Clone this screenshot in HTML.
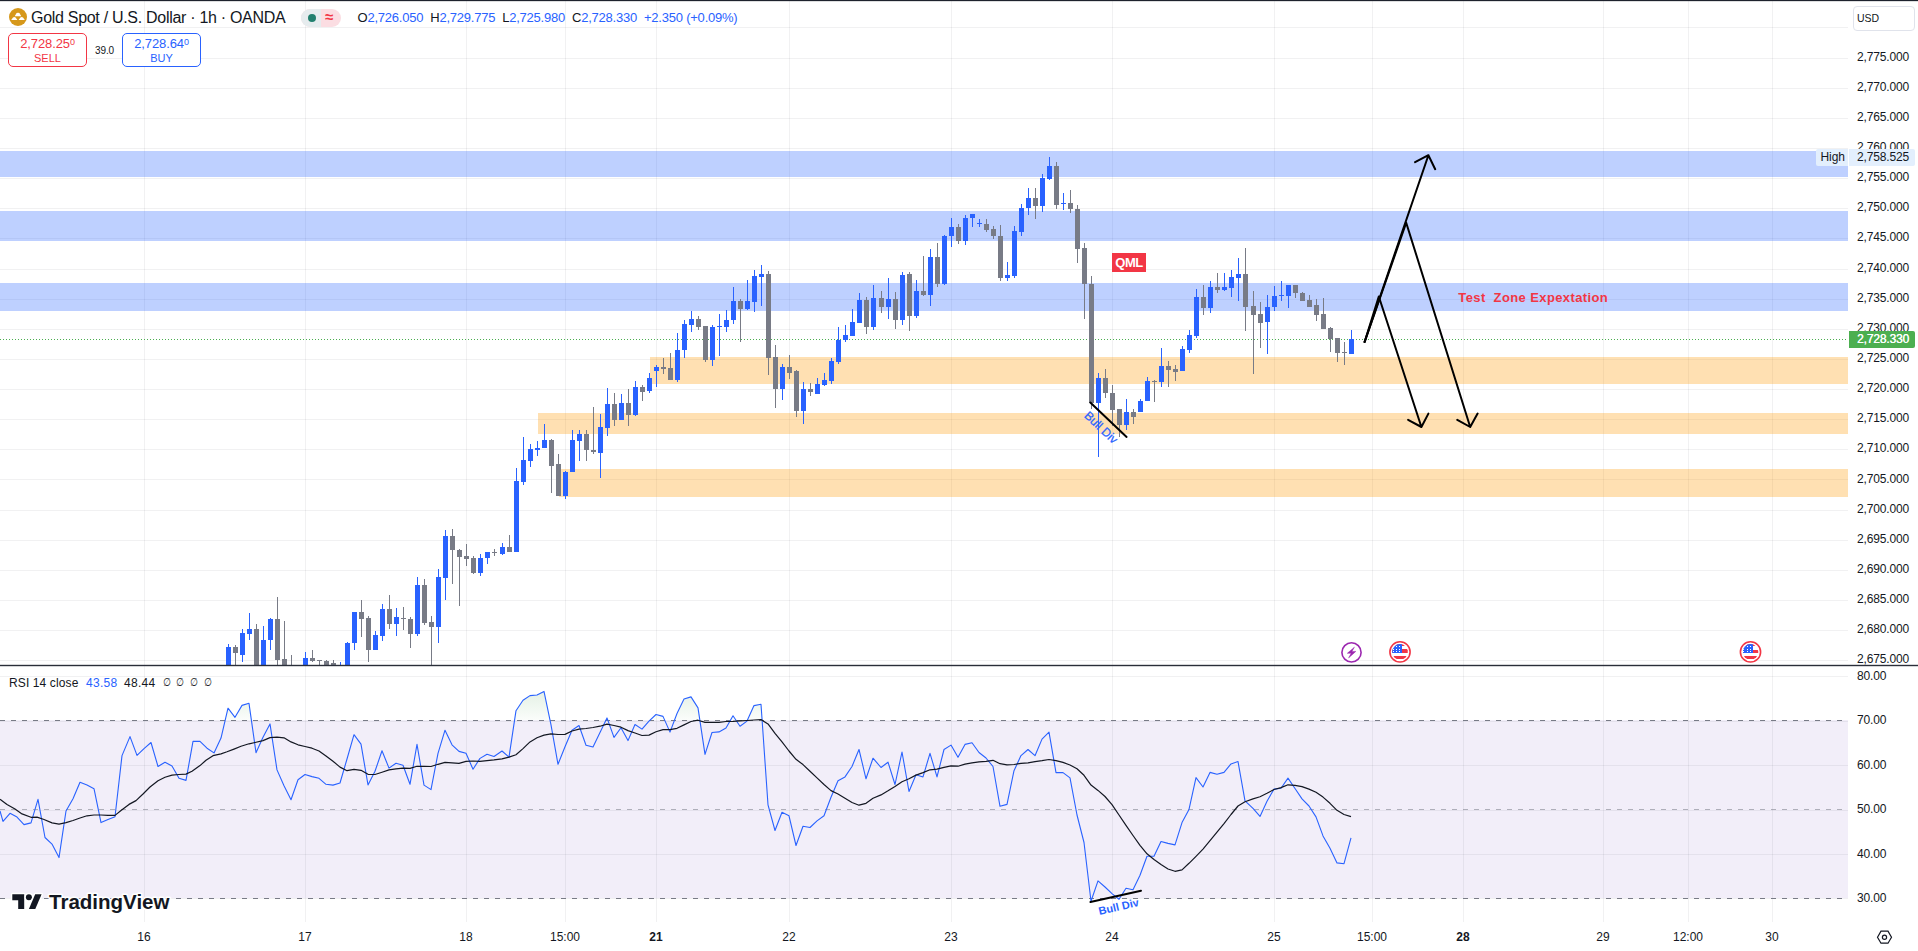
<!DOCTYPE html>
<html><head><meta charset="utf-8"><title>XAUUSD chart</title>
<style>
*{box-sizing:border-box}
html,body{margin:0;padding:0;background:#fff}
body{width:1918px;height:951px;overflow:hidden;position:relative;font-family:"Liberation Sans","DejaVu Sans",sans-serif;color:#131722}
#chart{position:absolute;left:0;top:0}
.pl{position:absolute;left:1857px;font-size:12px;line-height:16px;height:16px;white-space:nowrap;letter-spacing:-0.15px}
.tl{position:absolute;top:929px;width:60px;text-align:center;font-size:12px;line-height:16px;white-space:nowrap}
.tl.b{font-weight:bold}
.abs{position:absolute;white-space:nowrap}
</style></head><body>
<svg id="chart" width="1918" height="951" viewBox="0 0 1918 951">
<defs>
<clipPath id="cpMain"><rect x="0" y="1" width="1848" height="664"/></clipPath>
<clipPath id="cpOb"><rect x="0" y="666" width="1848" height="54.5"/></clipPath>
<linearGradient id="gOb" x1="0" y1="666" x2="0" y2="720.5" gradientUnits="userSpaceOnUse"><stop offset="0" stop-color="#7d9c80" stop-opacity="0.3"/><stop offset="1" stop-color="#4caf50" stop-opacity="0.02"/></linearGradient>
</defs>
<g shape-rendering="crispEdges">
<rect x="0" y="720" width="1848" height="178" fill="#f2eef9"/>
<rect x="0" y="27" width="1848" height="1" fill="rgba(42,46,57,0.065)"/><rect x="0" y="58" width="1848" height="1" fill="rgba(42,46,57,0.065)"/><rect x="0" y="88" width="1848" height="1" fill="rgba(42,46,57,0.065)"/><rect x="0" y="118" width="1848" height="1" fill="rgba(42,46,57,0.065)"/><rect x="0" y="148" width="1848" height="1" fill="rgba(42,46,57,0.065)"/><rect x="0" y="178" width="1848" height="1" fill="rgba(42,46,57,0.065)"/><rect x="0" y="208" width="1848" height="1" fill="rgba(42,46,57,0.065)"/><rect x="0" y="238" width="1848" height="1" fill="rgba(42,46,57,0.065)"/><rect x="0" y="269" width="1848" height="1" fill="rgba(42,46,57,0.065)"/><rect x="0" y="299" width="1848" height="1" fill="rgba(42,46,57,0.065)"/><rect x="0" y="329" width="1848" height="1" fill="rgba(42,46,57,0.065)"/><rect x="0" y="359" width="1848" height="1" fill="rgba(42,46,57,0.065)"/><rect x="0" y="389" width="1848" height="1" fill="rgba(42,46,57,0.065)"/><rect x="0" y="419" width="1848" height="1" fill="rgba(42,46,57,0.065)"/><rect x="0" y="449" width="1848" height="1" fill="rgba(42,46,57,0.065)"/><rect x="0" y="479" width="1848" height="1" fill="rgba(42,46,57,0.065)"/><rect x="0" y="510" width="1848" height="1" fill="rgba(42,46,57,0.065)"/><rect x="0" y="540" width="1848" height="1" fill="rgba(42,46,57,0.065)"/><rect x="0" y="570" width="1848" height="1" fill="rgba(42,46,57,0.065)"/><rect x="0" y="600" width="1848" height="1" fill="rgba(42,46,57,0.065)"/><rect x="0" y="630" width="1848" height="1" fill="rgba(42,46,57,0.065)"/><rect x="0" y="660" width="1848" height="1" fill="rgba(42,46,57,0.065)"/><rect x="0" y="676" width="1848" height="1" fill="rgba(42,46,57,0.065)"/><rect x="0" y="721" width="1848" height="1" fill="rgba(42,46,57,0.065)"/><rect x="0" y="765" width="1848" height="1" fill="rgba(42,46,57,0.065)"/><rect x="0" y="810" width="1848" height="1" fill="rgba(42,46,57,0.065)"/><rect x="0" y="854" width="1848" height="1" fill="rgba(42,46,57,0.065)"/><rect x="0" y="898" width="1848" height="1" fill="rgba(42,46,57,0.065)"/><rect x="144" y="1" width="1" height="921" fill="rgba(42,46,57,0.065)"/><rect x="305" y="1" width="1" height="921" fill="rgba(42,46,57,0.065)"/><rect x="466" y="1" width="1" height="921" fill="rgba(42,46,57,0.065)"/><rect x="565" y="1" width="1" height="921" fill="rgba(42,46,57,0.065)"/><rect x="656" y="1" width="1" height="921" fill="rgba(42,46,57,0.065)"/><rect x="789" y="1" width="1" height="921" fill="rgba(42,46,57,0.065)"/><rect x="951" y="1" width="1" height="921" fill="rgba(42,46,57,0.065)"/><rect x="1112" y="1" width="1" height="921" fill="rgba(42,46,57,0.065)"/><rect x="1274" y="1" width="1" height="921" fill="rgba(42,46,57,0.065)"/><rect x="1372" y="1" width="1" height="921" fill="rgba(42,46,57,0.065)"/><rect x="1463" y="1" width="1" height="921" fill="rgba(42,46,57,0.065)"/><rect x="1603" y="1" width="1" height="921" fill="rgba(42,46,57,0.065)"/><rect x="1688" y="1" width="1" height="921" fill="rgba(42,46,57,0.065)"/><rect x="1772" y="1" width="1" height="921" fill="rgba(42,46,57,0.065)"/>
</g>

<g shape-rendering="crispEdges">
<rect x="0" y="151" width="1848" height="26" fill="#2962ff" fill-opacity="0.3"/>
<rect x="0" y="211" width="1848" height="29.5" fill="#2962ff" fill-opacity="0.3"/>
<rect x="0" y="283" width="1848" height="28" fill="#2962ff" fill-opacity="0.3"/>
<rect x="650" y="357" width="1198" height="27" fill="#ff9800" fill-opacity="0.3"/>
<rect x="538" y="413" width="1310" height="21" fill="#ff9800" fill-opacity="0.3"/>
<rect x="559" y="469" width="1289" height="28" fill="#ff9800" fill-opacity="0.3"/>
</g>
<line x1="0" y1="339.5" x2="1848" y2="339.5" stroke="#4caf50" stroke-width="1" stroke-dasharray="1 2" shape-rendering="crispEdges"/>
<g shape-rendering="crispEdges" clip-path="url(#cpMain)">
<rect x="228" y="644" width="1" height="21" fill="#2962ff"/>
<rect x="226" y="647" width="5" height="18" fill="#2962ff"/>
<rect x="235" y="645" width="1" height="20" fill="#787b86"/>
<rect x="233" y="647" width="5" height="6" fill="#787b86"/>
<rect x="242" y="629" width="1" height="33" fill="#2962ff"/>
<rect x="240" y="633" width="5" height="22" fill="#2962ff"/>
<rect x="249" y="613" width="1" height="27" fill="#2962ff"/>
<rect x="247" y="629" width="5" height="5" fill="#2962ff"/>
<rect x="256" y="624" width="1" height="41" fill="#787b86"/>
<rect x="254" y="629" width="5" height="36" fill="#787b86"/>
<rect x="263" y="626" width="1" height="39" fill="#2962ff"/>
<rect x="261" y="640" width="5" height="25" fill="#2962ff"/>
<rect x="270" y="618" width="1" height="32" fill="#2962ff"/>
<rect x="268" y="619" width="5" height="21" fill="#2962ff"/>
<rect x="277" y="597" width="1" height="68" fill="#787b86"/>
<rect x="275" y="619" width="5" height="41" fill="#787b86"/>
<rect x="284" y="621" width="1" height="44" fill="#787b86"/>
<rect x="282" y="659" width="5" height="6" fill="#787b86"/>
<rect x="291" y="655" width="1" height="10" fill="#787b86"/>
<rect x="305" y="652" width="1" height="13" fill="#2962ff"/>
<rect x="303" y="658" width="5" height="7" fill="#2962ff"/>
<rect x="312" y="650" width="1" height="12" fill="#787b86"/>
<rect x="310" y="658" width="5" height="3" fill="#787b86"/>
<rect x="319" y="660" width="1" height="5" fill="#787b86"/>
<rect x="317" y="660" width="5" height="1" fill="#787b86"/>
<rect x="326" y="660" width="1" height="5" fill="#787b86"/>
<rect x="324" y="661" width="5" height="4" fill="#787b86"/>
<rect x="333" y="660" width="1" height="5" fill="#787b86"/>
<rect x="331" y="663" width="5" height="2" fill="#787b86"/>
<rect x="340" y="662" width="1" height="3" fill="#2962ff"/>
<rect x="347" y="642" width="1" height="23" fill="#2962ff"/>
<rect x="345" y="643" width="5" height="22" fill="#2962ff"/>
<rect x="354" y="612" width="1" height="38" fill="#2962ff"/>
<rect x="352" y="612" width="5" height="31" fill="#2962ff"/>
<rect x="361" y="600" width="1" height="37" fill="#787b86"/>
<rect x="359" y="612" width="5" height="7" fill="#787b86"/>
<rect x="368" y="616" width="1" height="46" fill="#787b86"/>
<rect x="366" y="618" width="5" height="32" fill="#787b86"/>
<rect x="375" y="631" width="1" height="19" fill="#2962ff"/>
<rect x="373" y="635" width="5" height="15" fill="#2962ff"/>
<rect x="382" y="604" width="1" height="37" fill="#2962ff"/>
<rect x="380" y="609" width="5" height="27" fill="#2962ff"/>
<rect x="389" y="595" width="1" height="34" fill="#787b86"/>
<rect x="387" y="609" width="5" height="15" fill="#787b86"/>
<rect x="396" y="608" width="1" height="28" fill="#2962ff"/>
<rect x="394" y="617" width="5" height="7" fill="#2962ff"/>
<rect x="403" y="607" width="1" height="23" fill="#787b86"/>
<rect x="401" y="618" width="5" height="1" fill="#787b86"/>
<rect x="410" y="617" width="1" height="31" fill="#787b86"/>
<rect x="408" y="619" width="5" height="15" fill="#787b86"/>
<rect x="417" y="577" width="1" height="59" fill="#2962ff"/>
<rect x="415" y="585" width="5" height="49" fill="#2962ff"/>
<rect x="424" y="579" width="1" height="46" fill="#787b86"/>
<rect x="422" y="585" width="5" height="38" fill="#787b86"/>
<rect x="431" y="616" width="1" height="49" fill="#787b86"/>
<rect x="429" y="622" width="5" height="5" fill="#787b86"/>
<rect x="438" y="569" width="1" height="74" fill="#2962ff"/>
<rect x="436" y="577" width="5" height="50" fill="#2962ff"/>
<rect x="445" y="530" width="1" height="70" fill="#2962ff"/>
<rect x="443" y="536" width="5" height="42" fill="#2962ff"/>
<rect x="452" y="529" width="1" height="55" fill="#787b86"/>
<rect x="450" y="536" width="5" height="14" fill="#787b86"/>
<rect x="459" y="549" width="1" height="57" fill="#787b86"/>
<rect x="457" y="550" width="5" height="7" fill="#787b86"/>
<rect x="466" y="544" width="1" height="22" fill="#787b86"/>
<rect x="464" y="556" width="5" height="3" fill="#787b86"/>
<rect x="473" y="556" width="1" height="18" fill="#787b86"/>
<rect x="471" y="558" width="5" height="15" fill="#787b86"/>
<rect x="480" y="554" width="1" height="22" fill="#2962ff"/>
<rect x="478" y="558" width="5" height="15" fill="#2962ff"/>
<rect x="487" y="552" width="1" height="12" fill="#2962ff"/>
<rect x="485" y="552" width="5" height="6" fill="#2962ff"/>
<rect x="494" y="549" width="1" height="7" fill="#787b86"/>
<rect x="492" y="552" width="5" height="1" fill="#787b86"/>
<rect x="502" y="543" width="1" height="12" fill="#2962ff"/>
<rect x="500" y="547" width="5" height="7" fill="#2962ff"/>
<rect x="509" y="535" width="1" height="17" fill="#787b86"/>
<rect x="507" y="547" width="5" height="5" fill="#787b86"/>
<rect x="516" y="468" width="1" height="84" fill="#2962ff"/>
<rect x="514" y="481" width="5" height="71" fill="#2962ff"/>
<rect x="523" y="437" width="1" height="48" fill="#2962ff"/>
<rect x="521" y="460" width="5" height="22" fill="#2962ff"/>
<rect x="530" y="444" width="1" height="23" fill="#2962ff"/>
<rect x="528" y="449" width="5" height="12" fill="#2962ff"/>
<rect x="537" y="441" width="1" height="15" fill="#2962ff"/>
<rect x="535" y="448" width="5" height="2" fill="#2962ff"/>
<rect x="544" y="424" width="1" height="24" fill="#2962ff"/>
<rect x="542" y="440" width="5" height="8" fill="#2962ff"/>
<rect x="551" y="439" width="1" height="54" fill="#787b86"/>
<rect x="549" y="440" width="5" height="26" fill="#787b86"/>
<rect x="558" y="454" width="1" height="42" fill="#787b86"/>
<rect x="556" y="464" width="5" height="32" fill="#787b86"/>
<rect x="565" y="471" width="1" height="28" fill="#2962ff"/>
<rect x="563" y="472" width="5" height="24" fill="#2962ff"/>
<rect x="572" y="430" width="1" height="42" fill="#2962ff"/>
<rect x="570" y="440" width="5" height="32" fill="#2962ff"/>
<rect x="579" y="430" width="1" height="31" fill="#2962ff"/>
<rect x="577" y="434" width="5" height="7" fill="#2962ff"/>
<rect x="586" y="430" width="1" height="31" fill="#787b86"/>
<rect x="584" y="434" width="5" height="16" fill="#787b86"/>
<rect x="593" y="407" width="1" height="47" fill="#787b86"/>
<rect x="591" y="450" width="5" height="2" fill="#787b86"/>
<rect x="600" y="414" width="1" height="64" fill="#2962ff"/>
<rect x="598" y="427" width="5" height="26" fill="#2962ff"/>
<rect x="607" y="388" width="1" height="48" fill="#2962ff"/>
<rect x="605" y="404" width="5" height="24" fill="#2962ff"/>
<rect x="614" y="393" width="1" height="33" fill="#787b86"/>
<rect x="612" y="404" width="5" height="16" fill="#787b86"/>
<rect x="621" y="394" width="1" height="26" fill="#2962ff"/>
<rect x="619" y="403" width="5" height="17" fill="#2962ff"/>
<rect x="628" y="389" width="1" height="37" fill="#787b86"/>
<rect x="626" y="403" width="5" height="12" fill="#787b86"/>
<rect x="635" y="381" width="1" height="35" fill="#2962ff"/>
<rect x="633" y="387" width="5" height="28" fill="#2962ff"/>
<rect x="642" y="385" width="1" height="16" fill="#787b86"/>
<rect x="640" y="387" width="5" height="5" fill="#787b86"/>
<rect x="649" y="373" width="1" height="20" fill="#2962ff"/>
<rect x="647" y="378" width="5" height="13" fill="#2962ff"/>
<rect x="656" y="365" width="1" height="22" fill="#2962ff"/>
<rect x="654" y="367" width="5" height="4" fill="#2962ff"/>
<rect x="663" y="358" width="1" height="16" fill="#787b86"/>
<rect x="661" y="367" width="5" height="2" fill="#787b86"/>
<rect x="670" y="353" width="1" height="27" fill="#787b86"/>
<rect x="668" y="368" width="5" height="12" fill="#787b86"/>
<rect x="677" y="333" width="1" height="49" fill="#2962ff"/>
<rect x="675" y="350" width="5" height="30" fill="#2962ff"/>
<rect x="684" y="320" width="1" height="38" fill="#2962ff"/>
<rect x="682" y="324" width="5" height="26" fill="#2962ff"/>
<rect x="691" y="311" width="1" height="21" fill="#2962ff"/>
<rect x="689" y="319" width="5" height="6" fill="#2962ff"/>
<rect x="698" y="316" width="1" height="14" fill="#787b86"/>
<rect x="696" y="319" width="5" height="8" fill="#787b86"/>
<rect x="705" y="326" width="1" height="36" fill="#787b86"/>
<rect x="703" y="326" width="5" height="34" fill="#787b86"/>
<rect x="712" y="325" width="1" height="41" fill="#2962ff"/>
<rect x="710" y="327" width="5" height="33" fill="#2962ff"/>
<rect x="719" y="314" width="1" height="42" fill="#2962ff"/>
<rect x="717" y="326" width="5" height="1" fill="#2962ff"/>
<rect x="726" y="310" width="1" height="22" fill="#2962ff"/>
<rect x="724" y="320" width="5" height="7" fill="#2962ff"/>
<rect x="733" y="287" width="1" height="37" fill="#2962ff"/>
<rect x="731" y="301" width="5" height="19" fill="#2962ff"/>
<rect x="740" y="299" width="1" height="43" fill="#787b86"/>
<rect x="738" y="301" width="5" height="8" fill="#787b86"/>
<rect x="747" y="280" width="1" height="30" fill="#2962ff"/>
<rect x="745" y="301" width="5" height="8" fill="#2962ff"/>
<rect x="754" y="270" width="1" height="42" fill="#2962ff"/>
<rect x="752" y="276" width="5" height="26" fill="#2962ff"/>
<rect x="761" y="265" width="1" height="41" fill="#2962ff"/>
<rect x="759" y="274" width="5" height="3" fill="#2962ff"/>
<rect x="768" y="271" width="1" height="104" fill="#787b86"/>
<rect x="766" y="274" width="5" height="84" fill="#787b86"/>
<rect x="775" y="345" width="1" height="63" fill="#787b86"/>
<rect x="773" y="357" width="5" height="32" fill="#787b86"/>
<rect x="782" y="364" width="1" height="36" fill="#2962ff"/>
<rect x="780" y="367" width="5" height="22" fill="#2962ff"/>
<rect x="789" y="355" width="1" height="24" fill="#787b86"/>
<rect x="787" y="367" width="5" height="6" fill="#787b86"/>
<rect x="796" y="370" width="1" height="47" fill="#787b86"/>
<rect x="794" y="371" width="5" height="40" fill="#787b86"/>
<rect x="803" y="382" width="1" height="42" fill="#2962ff"/>
<rect x="801" y="389" width="5" height="22" fill="#2962ff"/>
<rect x="810" y="383" width="1" height="13" fill="#787b86"/>
<rect x="808" y="389" width="5" height="3" fill="#787b86"/>
<rect x="817" y="378" width="1" height="16" fill="#2962ff"/>
<rect x="815" y="384" width="5" height="10" fill="#2962ff"/>
<rect x="824" y="373" width="1" height="13" fill="#2962ff"/>
<rect x="822" y="380" width="5" height="5" fill="#2962ff"/>
<rect x="831" y="358" width="1" height="26" fill="#2962ff"/>
<rect x="829" y="361" width="5" height="20" fill="#2962ff"/>
<rect x="838" y="327" width="1" height="37" fill="#2962ff"/>
<rect x="836" y="340" width="5" height="22" fill="#2962ff"/>
<rect x="845" y="325" width="1" height="17" fill="#2962ff"/>
<rect x="843" y="335" width="5" height="5" fill="#2962ff"/>
<rect x="852" y="309" width="1" height="27" fill="#2962ff"/>
<rect x="850" y="322" width="5" height="14" fill="#2962ff"/>
<rect x="859" y="293" width="1" height="30" fill="#2962ff"/>
<rect x="857" y="300" width="5" height="23" fill="#2962ff"/>
<rect x="866" y="297" width="1" height="37" fill="#787b86"/>
<rect x="864" y="300" width="5" height="27" fill="#787b86"/>
<rect x="873" y="285" width="1" height="45" fill="#2962ff"/>
<rect x="871" y="298" width="5" height="29" fill="#2962ff"/>
<rect x="881" y="291" width="1" height="22" fill="#787b86"/>
<rect x="879" y="298" width="5" height="9" fill="#787b86"/>
<rect x="888" y="278" width="1" height="41" fill="#2962ff"/>
<rect x="886" y="299" width="5" height="8" fill="#2962ff"/>
<rect x="895" y="292" width="1" height="37" fill="#787b86"/>
<rect x="893" y="299" width="5" height="21" fill="#787b86"/>
<rect x="902" y="272" width="1" height="53" fill="#2962ff"/>
<rect x="900" y="275" width="5" height="45" fill="#2962ff"/>
<rect x="909" y="272" width="1" height="59" fill="#787b86"/>
<rect x="907" y="274" width="5" height="42" fill="#787b86"/>
<rect x="916" y="280" width="1" height="38" fill="#2962ff"/>
<rect x="914" y="291" width="5" height="25" fill="#2962ff"/>
<rect x="923" y="256" width="1" height="40" fill="#787b86"/>
<rect x="921" y="291" width="5" height="4" fill="#787b86"/>
<rect x="930" y="249" width="1" height="57" fill="#2962ff"/>
<rect x="928" y="257" width="5" height="38" fill="#2962ff"/>
<rect x="937" y="243" width="1" height="44" fill="#787b86"/>
<rect x="935" y="257" width="5" height="27" fill="#787b86"/>
<rect x="944" y="235" width="1" height="50" fill="#2962ff"/>
<rect x="942" y="236" width="5" height="48" fill="#2962ff"/>
<rect x="951" y="218" width="1" height="29" fill="#2962ff"/>
<rect x="949" y="227" width="5" height="9" fill="#2962ff"/>
<rect x="958" y="224" width="1" height="20" fill="#787b86"/>
<rect x="956" y="227" width="5" height="14" fill="#787b86"/>
<rect x="965" y="215" width="1" height="30" fill="#2962ff"/>
<rect x="963" y="218" width="5" height="23" fill="#2962ff"/>
<rect x="972" y="214" width="1" height="13" fill="#2962ff"/>
<rect x="970" y="214" width="5" height="4" fill="#2962ff"/>
<rect x="979" y="219" width="1" height="8" fill="#2962ff"/>
<rect x="977" y="223" width="5" height="1" fill="#2962ff"/>
<rect x="986" y="219" width="1" height="13" fill="#787b86"/>
<rect x="984" y="224" width="5" height="6" fill="#787b86"/>
<rect x="993" y="226" width="1" height="13" fill="#787b86"/>
<rect x="991" y="229" width="5" height="7" fill="#787b86"/>
<rect x="1000" y="225" width="1" height="56" fill="#787b86"/>
<rect x="998" y="236" width="5" height="42" fill="#787b86"/>
<rect x="1007" y="262" width="1" height="19" fill="#2962ff"/>
<rect x="1005" y="275" width="5" height="3" fill="#2962ff"/>
<rect x="1014" y="226" width="1" height="52" fill="#2962ff"/>
<rect x="1012" y="231" width="5" height="45" fill="#2962ff"/>
<rect x="1021" y="204" width="1" height="32" fill="#2962ff"/>
<rect x="1019" y="208" width="5" height="24" fill="#2962ff"/>
<rect x="1028" y="188" width="1" height="27" fill="#2962ff"/>
<rect x="1026" y="198" width="5" height="10" fill="#2962ff"/>
<rect x="1035" y="188" width="1" height="31" fill="#787b86"/>
<rect x="1033" y="198" width="5" height="8" fill="#787b86"/>
<rect x="1042" y="174" width="1" height="38" fill="#2962ff"/>
<rect x="1040" y="178" width="5" height="28" fill="#2962ff"/>
<rect x="1049" y="157" width="1" height="23" fill="#2962ff"/>
<rect x="1047" y="166" width="5" height="13" fill="#2962ff"/>
<rect x="1056" y="162" width="1" height="47" fill="#787b86"/>
<rect x="1054" y="166" width="5" height="39" fill="#787b86"/>
<rect x="1063" y="193" width="1" height="17" fill="#2962ff"/>
<rect x="1061" y="203" width="5" height="1" fill="#2962ff"/>
<rect x="1070" y="190" width="1" height="23" fill="#787b86"/>
<rect x="1068" y="203" width="5" height="6" fill="#787b86"/>
<rect x="1077" y="205" width="1" height="58" fill="#787b86"/>
<rect x="1075" y="209" width="5" height="40" fill="#787b86"/>
<rect x="1084" y="243" width="1" height="76" fill="#787b86"/>
<rect x="1082" y="248" width="5" height="36" fill="#787b86"/>
<rect x="1091" y="276" width="1" height="133" fill="#787b86"/>
<rect x="1089" y="284" width="5" height="119" fill="#787b86"/>
<rect x="1098" y="373" width="1" height="84" fill="#2962ff"/>
<rect x="1096" y="378" width="5" height="25" fill="#2962ff"/>
<rect x="1105" y="369" width="1" height="29" fill="#787b86"/>
<rect x="1103" y="378" width="5" height="15" fill="#787b86"/>
<rect x="1112" y="385" width="1" height="41" fill="#787b86"/>
<rect x="1110" y="393" width="5" height="17" fill="#787b86"/>
<rect x="1119" y="409" width="1" height="28" fill="#787b86"/>
<rect x="1117" y="409" width="5" height="16" fill="#787b86"/>
<rect x="1126" y="399" width="1" height="31" fill="#2962ff"/>
<rect x="1124" y="412" width="5" height="13" fill="#2962ff"/>
<rect x="1133" y="409" width="1" height="15" fill="#787b86"/>
<rect x="1131" y="412" width="5" height="5" fill="#787b86"/>
<rect x="1140" y="399" width="1" height="13" fill="#2962ff"/>
<rect x="1138" y="401" width="5" height="11" fill="#2962ff"/>
<rect x="1147" y="377" width="1" height="24" fill="#2962ff"/>
<rect x="1145" y="381" width="5" height="20" fill="#2962ff"/>
<rect x="1154" y="380" width="1" height="22" fill="#787b86"/>
<rect x="1152" y="381" width="5" height="1" fill="#787b86"/>
<rect x="1161" y="348" width="1" height="39" fill="#2962ff"/>
<rect x="1159" y="366" width="5" height="16" fill="#2962ff"/>
<rect x="1168" y="361" width="1" height="26" fill="#787b86"/>
<rect x="1166" y="366" width="5" height="4" fill="#787b86"/>
<rect x="1175" y="365" width="1" height="16" fill="#787b86"/>
<rect x="1173" y="369" width="5" height="3" fill="#787b86"/>
<rect x="1182" y="346" width="1" height="25" fill="#2962ff"/>
<rect x="1180" y="349" width="5" height="22" fill="#2962ff"/>
<rect x="1189" y="330" width="1" height="23" fill="#2962ff"/>
<rect x="1187" y="335" width="5" height="15" fill="#2962ff"/>
<rect x="1196" y="289" width="1" height="49" fill="#2962ff"/>
<rect x="1194" y="297" width="5" height="39" fill="#2962ff"/>
<rect x="1203" y="285" width="1" height="30" fill="#787b86"/>
<rect x="1201" y="297" width="5" height="11" fill="#787b86"/>
<rect x="1210" y="281" width="1" height="32" fill="#2962ff"/>
<rect x="1208" y="287" width="5" height="21" fill="#2962ff"/>
<rect x="1217" y="273" width="1" height="20" fill="#787b86"/>
<rect x="1215" y="287" width="5" height="3" fill="#787b86"/>
<rect x="1224" y="273" width="1" height="18" fill="#2962ff"/>
<rect x="1222" y="287" width="5" height="3" fill="#2962ff"/>
<rect x="1231" y="270" width="1" height="27" fill="#2962ff"/>
<rect x="1229" y="277" width="5" height="11" fill="#2962ff"/>
<rect x="1238" y="258" width="1" height="43" fill="#2962ff"/>
<rect x="1236" y="274" width="5" height="4" fill="#2962ff"/>
<rect x="1245" y="248" width="1" height="83" fill="#787b86"/>
<rect x="1243" y="274" width="5" height="33" fill="#787b86"/>
<rect x="1253" y="291" width="1" height="83" fill="#787b86"/>
<rect x="1251" y="306" width="5" height="9" fill="#787b86"/>
<rect x="1260" y="302" width="1" height="46" fill="#787b86"/>
<rect x="1258" y="314" width="5" height="9" fill="#787b86"/>
<rect x="1267" y="295" width="1" height="59" fill="#2962ff"/>
<rect x="1265" y="307" width="5" height="15" fill="#2962ff"/>
<rect x="1274" y="286" width="1" height="25" fill="#2962ff"/>
<rect x="1272" y="296" width="5" height="11" fill="#2962ff"/>
<rect x="1281" y="281" width="1" height="20" fill="#2962ff"/>
<rect x="1279" y="295" width="5" height="1" fill="#2962ff"/>
<rect x="1288" y="285" width="1" height="23" fill="#2962ff"/>
<rect x="1286" y="285" width="5" height="11" fill="#2962ff"/>
<rect x="1295" y="285" width="1" height="13" fill="#787b86"/>
<rect x="1293" y="285" width="5" height="8" fill="#787b86"/>
<rect x="1302" y="292" width="1" height="9" fill="#787b86"/>
<rect x="1300" y="293" width="5" height="8" fill="#787b86"/>
<rect x="1309" y="295" width="1" height="12" fill="#787b86"/>
<rect x="1307" y="300" width="5" height="7" fill="#787b86"/>
<rect x="1316" y="299" width="1" height="22" fill="#787b86"/>
<rect x="1314" y="305" width="5" height="10" fill="#787b86"/>
<rect x="1323" y="298" width="1" height="31" fill="#787b86"/>
<rect x="1321" y="314" width="5" height="15" fill="#787b86"/>
<rect x="1330" y="327" width="1" height="25" fill="#787b86"/>
<rect x="1328" y="328" width="5" height="11" fill="#787b86"/>
<rect x="1337" y="338" width="1" height="24" fill="#787b86"/>
<rect x="1335" y="338" width="5" height="15" fill="#787b86"/>
<rect x="1344" y="342" width="1" height="23" fill="#787b86"/>
<rect x="1342" y="352" width="5" height="1" fill="#787b86"/>
<rect x="1351" y="330" width="1" height="24" fill="#2962ff"/>
<rect x="1349" y="339" width="5" height="15" fill="#2962ff"/>
</g>
<!-- drawings main -->
<g fill="none" stroke="#000" stroke-linecap="round" stroke-linejoin="round">
<path d="M1364.6,342 L1428.4,155.2 M1415.1,162.2 L1428.4,155.2 L1435.2,169.2" stroke-width="2"/>
<path d="M1364.6,342 L1378.8,296.5 L1421.4,427 M1408.1,419.8 L1421.4,427 L1428.4,413.6" stroke-width="2"/>
<path d="M1364.6,342 L1406.2,222.7 L1470.2,427 M1457.3,419.8 L1470.2,427 L1477.6,413.6" stroke-width="2"/>
<path d="M1090.3,402.6 L1126.6,436.9" stroke-width="2"/>
</g>
<text x="0" y="0" transform="translate(1083.5,416.5) rotate(43.5)" font-size="12" fill="#2962ff" stroke="#2962ff" stroke-width="0.25" font-family="Liberation Sans, sans-serif">Bull Div</text>
<rect x="1112" y="253" width="34" height="19" fill="#f23645"/>
<text x="1129" y="267" text-anchor="middle" font-size="13" font-weight="bold" fill="#fff" font-family="Liberation Sans, sans-serif" letter-spacing="-0.5">QML</text>
<text x="1458.3" y="301.6" font-size="13" font-weight="bold" fill="#f23645" font-family="Liberation Sans, sans-serif" style="white-space:pre" textLength="149.5" lengthAdjust="spacing">Test  Zone Expextation</text>
<!-- icons -->
<g>
<circle cx="1351.5" cy="652.4" r="9.6" fill="#fff" stroke="#9c27b0" stroke-width="1.6"/>
<path d="M1354.4,647.2 L1347.3,653.3 L1351.2,653.3 L1348.6,657.9 L1355.8,651.4 L1351.9,651.4 Z" fill="#9c27b0" stroke="#9c27b0" stroke-width="0.5" stroke-linejoin="round"/>
</g>
<g id="flag1">
<circle cx="1400" cy="651.9" r="10.1" fill="#fff" stroke="#f23645" stroke-width="1.6"/>
<clipPath id="fc1"><circle cx="1400" cy="651.9" r="7.8"/></clipPath>
<g clip-path="url(#fc1)" shape-rendering="crispEdges">
<rect x="1392" y="644" width="16" height="16" fill="#fff"/>
<rect x="1392" y="644" width="16" height="2.3" fill="#f23645"/>
<rect x="1392" y="648.6" width="16" height="2.3" fill="#f23645"/>
<rect x="1392" y="650.2" width="16" height="3" fill="#f23645"/>
<rect x="1392" y="656" width="16" height="3.2" fill="#f23645"/>
<rect x="1392" y="644" width="10" height="9.2" fill="#2962ff"/><rect x="1392.8" y="645.7" width="1" height="1" fill="#fff"/><rect x="1392.8" y="648.6" width="1" height="1" fill="#fff"/><rect x="1392.8" y="651.2" width="1" height="1" fill="#fff"/><rect x="1396.0" y="645.7" width="1" height="1" fill="#fff"/><rect x="1396.0" y="648.6" width="1" height="1" fill="#fff"/><rect x="1396.0" y="651.2" width="1" height="1" fill="#fff"/><rect x="1399.1" y="645.7" width="1" height="1" fill="#fff"/><rect x="1399.1" y="648.6" width="1" height="1" fill="#fff"/><rect x="1399.1" y="651.2" width="1" height="1" fill="#fff"/>
</g>
</g>
<g id="flag2">
<circle cx="1750.5" cy="651.9" r="10.1" fill="#fff" stroke="#f23645" stroke-width="1.6"/>
<clipPath id="fc2"><circle cx="1750.5" cy="651.9" r="7.8"/></clipPath>
<g clip-path="url(#fc2)" shape-rendering="crispEdges">
<rect x="1742.5" y="644" width="16" height="16" fill="#fff"/>
<rect x="1742.5" y="644" width="16" height="2.3" fill="#f23645"/>
<rect x="1742.5" y="650.2" width="16" height="3" fill="#f23645"/>
<rect x="1742.5" y="656" width="16" height="3.2" fill="#f23645"/>
<rect x="1742.5" y="644" width="10" height="9.2" fill="#2962ff"/><rect x="1743.3" y="645.7" width="1" height="1" fill="#fff"/><rect x="1743.3" y="648.6" width="1" height="1" fill="#fff"/><rect x="1743.3" y="651.2" width="1" height="1" fill="#fff"/><rect x="1746.5" y="645.7" width="1" height="1" fill="#fff"/><rect x="1746.5" y="648.6" width="1" height="1" fill="#fff"/><rect x="1746.5" y="651.2" width="1" height="1" fill="#fff"/><rect x="1749.6" y="645.7" width="1" height="1" fill="#fff"/><rect x="1749.6" y="648.6" width="1" height="1" fill="#fff"/><rect x="1749.6" y="651.2" width="1" height="1" fill="#fff"/>
</g>
</g>
<!-- separator -->
<rect x="0" y="664.8" width="1918" height="1.4" fill="#2a2e39"/>
<rect x="0" y="0" width="1918" height="1.15" fill="#1e222d"/>
<!-- RSI -->
<path d="M0.0,811.0 L3.0,821.4 L10.0,813.3 L17.0,817.1 L24.0,824.6 L31.0,822.9 L38.0,799.3 L45.0,837.5 L52.0,844.1 L59.0,857.6 L66.0,811.0 L73.0,798.7 L80.0,782.2 L87.0,785.1 L94.0,788.7 L101.0,822.6 L108.0,819.5 L115.0,816.7 L122.0,755.6 L130.0,736.6 L137.0,755.4 L144.0,748.6 L151.0,742.5 L158.0,766.5 L165.0,762.2 L172.0,766.0 L179.0,778.3 L186.0,780.4 L193.0,741.4 L200.0,741.4 L207.0,748.2 L214.0,752.9 L221.0,738.1 L228.0,708.2 L235.0,717.3 L242.0,705.4 L249.0,703.3 L256.0,752.7 L263.0,737.2 L270.0,723.9 L277.0,769.9 L284.0,785.8 L291.0,799.7 L298.0,779.8 L305.0,774.5 L312.0,776.6 L319.0,778.3 L326.0,784.3 L333.0,785.1 L340.0,783.0 L347.0,759.0 L354.0,734.7 L361.0,744.2 L368.0,784.9 L375.0,771.3 L382.0,750.8 L389.0,768.1 L396.0,763.3 L403.0,765.2 L410.0,784.3 L417.0,744.4 L424.0,785.1 L431.0,789.6 L438.0,753.3 L445.0,730.2 L452.0,744.8 L459.0,751.4 L466.0,753.3 L473.0,769.2 L480.0,758.4 L487.0,754.2 L494.0,756.5 L502.0,751.0 L509.0,757.1 L516.0,710.7 L523.0,700.3 L530.0,695.6 L537.0,695.0 L544.0,691.4 L551.0,724.9 L558.0,764.3 L565.0,746.7 L572.0,730.2 L579.0,725.5 L586.0,745.3 L593.0,747.0 L600.0,732.5 L607.0,717.9 L614.0,737.4 L621.0,727.7 L628.0,740.6 L635.0,724.5 L642.0,729.1 L649.0,721.1 L656.0,714.5 L663.0,716.4 L670.0,732.1 L677.0,713.5 L684.0,699.0 L691.0,696.9 L698.0,707.9 L705.0,754.4 L712.0,732.5 L719.0,731.9 L726.0,728.1 L733.0,715.8 L740.0,726.2 L747.0,721.1 L754.0,705.6 L761.0,704.3 L768.0,804.8 L775.0,830.5 L782.0,812.3 L789.0,815.8 L796.0,845.5 L803.0,826.2 L810.0,827.5 L817.0,820.9 L824.0,815.8 L831.0,797.2 L838.0,780.7 L845.0,776.9 L852.0,766.5 L859.0,749.5 L866.0,778.8 L873.0,758.2 L881.0,767.5 L888.0,762.2 L895.0,784.5 L902.0,752.0 L909.0,791.5 L916.0,774.7 L923.0,776.9 L930.0,753.3 L937.0,776.9 L944.0,749.5 L951.0,745.1 L958.0,757.3 L965.0,744.4 L972.0,742.7 L979.0,752.5 L986.0,758.0 L993.0,766.5 L1000.0,806.3 L1007.0,804.4 L1014.0,770.7 L1021.0,755.6 L1028.0,749.5 L1035.0,755.7 L1042.0,739.1 L1049.0,732.1 L1056.0,772.6 L1063.0,772.6 L1070.0,777.9 L1077.0,815.0 L1084.0,842.5 L1091.0,901.2 L1098.0,880.9 L1105.0,887.0 L1112.0,893.6 L1119.0,899.3 L1126.0,888.3 L1133.0,889.8 L1140.0,875.2 L1147.0,856.3 L1154.0,856.3 L1161.0,841.5 L1168.0,843.4 L1175.0,844.9 L1182.0,822.6 L1189.0,809.4 L1196.0,777.6 L1203.0,787.0 L1210.0,772.4 L1217.0,774.3 L1224.0,772.4 L1231.0,763.9 L1238.0,761.5 L1245.0,800.8 L1253.0,808.4 L1260.0,816.4 L1267.0,801.2 L1274.0,789.1 L1281.0,788.2 L1288.0,778.1 L1295.0,788.5 L1302.0,798.9 L1309.0,806.0 L1316.0,816.9 L1323.0,835.9 L1330.0,848.2 L1337.0,862.9 L1344.0,863.7 L1351.0,837.8 L1351.3,720.5 L0,720.5 Z" fill="url(#gOb)" clip-path="url(#cpOb)"/>
<g stroke="#787b86" stroke-width="1" stroke-dasharray="5 6" shape-rendering="crispEdges">
<line x1="0" y1="720.5" x2="1848" y2="720.5"/>
<line x1="0" y1="809.5" x2="1848" y2="809.5" stroke-opacity="0.55"/>
<line x1="0" y1="898.5" x2="1848" y2="898.5"/>
</g>
<path d="M0.0,811.0 L3.0,821.4 L10.0,813.3 L17.0,817.1 L24.0,824.6 L31.0,822.9 L38.0,799.3 L45.0,837.5 L52.0,844.1 L59.0,857.6 L66.0,811.0 L73.0,798.7 L80.0,782.2 L87.0,785.1 L94.0,788.7 L101.0,822.6 L108.0,819.5 L115.0,816.7 L122.0,755.6 L130.0,736.6 L137.0,755.4 L144.0,748.6 L151.0,742.5 L158.0,766.5 L165.0,762.2 L172.0,766.0 L179.0,778.3 L186.0,780.4 L193.0,741.4 L200.0,741.4 L207.0,748.2 L214.0,752.9 L221.0,738.1 L228.0,708.2 L235.0,717.3 L242.0,705.4 L249.0,703.3 L256.0,752.7 L263.0,737.2 L270.0,723.9 L277.0,769.9 L284.0,785.8 L291.0,799.7 L298.0,779.8 L305.0,774.5 L312.0,776.6 L319.0,778.3 L326.0,784.3 L333.0,785.1 L340.0,783.0 L347.0,759.0 L354.0,734.7 L361.0,744.2 L368.0,784.9 L375.0,771.3 L382.0,750.8 L389.0,768.1 L396.0,763.3 L403.0,765.2 L410.0,784.3 L417.0,744.4 L424.0,785.1 L431.0,789.6 L438.0,753.3 L445.0,730.2 L452.0,744.8 L459.0,751.4 L466.0,753.3 L473.0,769.2 L480.0,758.4 L487.0,754.2 L494.0,756.5 L502.0,751.0 L509.0,757.1 L516.0,710.7 L523.0,700.3 L530.0,695.6 L537.0,695.0 L544.0,691.4 L551.0,724.9 L558.0,764.3 L565.0,746.7 L572.0,730.2 L579.0,725.5 L586.0,745.3 L593.0,747.0 L600.0,732.5 L607.0,717.9 L614.0,737.4 L621.0,727.7 L628.0,740.6 L635.0,724.5 L642.0,729.1 L649.0,721.1 L656.0,714.5 L663.0,716.4 L670.0,732.1 L677.0,713.5 L684.0,699.0 L691.0,696.9 L698.0,707.9 L705.0,754.4 L712.0,732.5 L719.0,731.9 L726.0,728.1 L733.0,715.8 L740.0,726.2 L747.0,721.1 L754.0,705.6 L761.0,704.3 L768.0,804.8 L775.0,830.5 L782.0,812.3 L789.0,815.8 L796.0,845.5 L803.0,826.2 L810.0,827.5 L817.0,820.9 L824.0,815.8 L831.0,797.2 L838.0,780.7 L845.0,776.9 L852.0,766.5 L859.0,749.5 L866.0,778.8 L873.0,758.2 L881.0,767.5 L888.0,762.2 L895.0,784.5 L902.0,752.0 L909.0,791.5 L916.0,774.7 L923.0,776.9 L930.0,753.3 L937.0,776.9 L944.0,749.5 L951.0,745.1 L958.0,757.3 L965.0,744.4 L972.0,742.7 L979.0,752.5 L986.0,758.0 L993.0,766.5 L1000.0,806.3 L1007.0,804.4 L1014.0,770.7 L1021.0,755.6 L1028.0,749.5 L1035.0,755.7 L1042.0,739.1 L1049.0,732.1 L1056.0,772.6 L1063.0,772.6 L1070.0,777.9 L1077.0,815.0 L1084.0,842.5 L1091.0,901.2 L1098.0,880.9 L1105.0,887.0 L1112.0,893.6 L1119.0,899.3 L1126.0,888.3 L1133.0,889.8 L1140.0,875.2 L1147.0,856.3 L1154.0,856.3 L1161.0,841.5 L1168.0,843.4 L1175.0,844.9 L1182.0,822.6 L1189.0,809.4 L1196.0,777.6 L1203.0,787.0 L1210.0,772.4 L1217.0,774.3 L1224.0,772.4 L1231.0,763.9 L1238.0,761.5 L1245.0,800.8 L1253.0,808.4 L1260.0,816.4 L1267.0,801.2 L1274.0,789.1 L1281.0,788.2 L1288.0,778.1 L1295.0,788.5 L1302.0,798.9 L1309.0,806.0 L1316.0,816.9 L1323.0,835.9 L1330.0,848.2 L1337.0,862.9 L1344.0,863.7 L1351.0,837.8" fill="none" stroke="#2962ff" stroke-width="1.1" stroke-linejoin="round"/>
<path d="M0.0,799.3 L7.0,804.4 L15.0,809.1 L22.0,813.9 L31.0,817.3 L37.0,817.1 L44.0,819.5 L52.0,822.9 L59.0,824.1 L66.0,822.6 L73.0,820.5 L80.0,818.0 L87.0,815.8 L94.0,815.0 L101.0,815.0 L108.0,815.4 L115.0,815.4 L121.0,810.5 L129.0,804.4 L136.0,800.6 L143.0,794.0 L150.0,787.0 L158.0,780.7 L165.0,777.3 L172.0,775.1 L179.0,774.5 L186.0,774.1 L192.0,771.3 L200.0,765.6 L206.0,760.3 L213.0,755.7 L221.0,753.9 L227.0,751.8 L234.0,749.1 L241.0,746.3 L249.0,743.8 L255.0,742.5 L263.0,740.6 L270.0,737.6 L277.0,737.2 L284.0,737.8 L291.0,741.9 L298.0,744.8 L305.0,746.5 L312.0,748.2 L319.0,751.0 L326.0,756.1 L333.0,761.2 L340.0,767.1 L347.0,770.7 L354.0,769.4 L361.0,770.3 L368.0,774.3 L375.0,774.5 L382.0,772.2 L389.0,769.9 L396.0,768.8 L403.0,768.2 L410.0,768.4 L417.0,766.3 L424.0,766.3 L431.0,766.5 L438.0,764.3 L445.0,762.4 L452.0,762.9 L459.0,763.3 L466.0,761.4 L473.0,761.0 L480.0,761.4 L487.0,760.7 L494.0,759.9 L502.0,758.8 L509.0,757.1 L516.0,754.8 L523.0,748.6 L530.0,741.9 L537.0,737.8 L544.0,735.1 L551.0,733.8 L558.0,734.5 L565.0,734.4 L572.0,731.0 L579.0,729.2 L586.0,728.5 L593.0,727.5 L600.0,726.2 L607.0,724.1 L614.0,725.5 L621.0,727.2 L628.0,730.6 L635.0,733.0 L642.0,735.5 L649.0,735.1 L656.0,731.7 L663.0,729.6 L670.0,729.6 L677.0,728.3 L684.0,724.9 L691.0,721.5 L698.0,720.2 L705.0,722.4 L712.0,722.4 L719.0,722.4 L726.0,721.5 L733.0,721.3 L740.0,720.9 L747.0,720.5 L754.0,720.0 L761.0,719.6 L768.0,723.9 L775.0,733.4 L782.0,741.9 L789.0,751.0 L796.0,759.3 L803.0,764.6 L810.0,771.3 L817.0,777.9 L824.0,784.5 L831.0,790.6 L838.0,794.0 L845.0,798.3 L852.0,802.5 L859.0,805.2 L866.0,803.3 L873.0,798.3 L881.0,794.9 L888.0,790.8 L895.0,786.4 L902.0,781.7 L909.0,778.8 L916.0,775.1 L923.0,772.6 L930.0,769.8 L937.0,769.2 L944.0,767.3 L951.0,765.8 L958.0,766.2 L965.0,764.1 L972.0,762.8 L979.0,761.8 L986.0,761.4 L993.0,760.3 L1000.0,763.7 L1007.0,764.8 L1014.0,764.5 L1021.0,763.3 L1028.0,762.8 L1035.0,761.6 L1042.0,760.7 L1049.0,759.5 L1056.0,760.7 L1063.0,762.4 L1070.0,765.0 L1077.0,768.7 L1084.0,775.3 L1091.0,785.1 L1098.0,790.4 L1105.0,796.5 L1112.0,804.6 L1119.0,815.0 L1126.0,825.4 L1133.0,835.5 L1140.0,845.3 L1147.0,853.8 L1154.0,859.5 L1161.0,864.6 L1168.0,869.0 L1175.0,871.3 L1182.0,869.9 L1189.0,863.3 L1196.0,856.3 L1203.0,849.1 L1210.0,840.6 L1217.0,832.1 L1224.0,823.6 L1231.0,814.5 L1238.0,806.0 L1245.0,801.8 L1253.0,798.9 L1260.0,796.7 L1267.0,793.3 L1274.0,789.5 L1281.0,787.6 L1288.0,784.8 L1295.0,785.3 L1302.0,786.6 L1309.0,789.1 L1316.0,792.3 L1323.0,797.1 L1330.0,803.3 L1337.0,810.3 L1344.0,814.5 L1351.0,816.6" fill="none" stroke="#131722" stroke-width="1.2" stroke-linejoin="round"/>
<path d="M1090.4,902.1 L1141,890.8" stroke="#000" stroke-width="2" stroke-linecap="round"/>
<text x="0" y="0" transform="translate(1099.5,915) rotate(-13)" font-size="11" font-weight="bold" fill="#2962ff" font-family="Liberation Sans, sans-serif">Bull Div</text>
<!-- TV logo -->
<g fill="#131722" stroke="#fff" stroke-width="3" paint-order="stroke" stroke-linejoin="round">
<path d="M12.3,894.3 H24.2 V909 H18.2 V900.2 H12.3 Z"/>
<circle cx="28.9" cy="897.3" r="3"/>
<path d="M35.2,894.3 H41.6 L35.3,909 H28.9 Z"/>
<text x="49" y="908.5" font-size="20" font-weight="bold" font-family="Liberation Sans, sans-serif" textLength="120.5" lengthAdjust="spacingAndGlyphs">TradingView</text>
</g>
<!-- settings icon -->
<g fill="none" stroke="#131722" stroke-width="1.2">
<path d="M1877.5,937.2 L1881,931.2 H1888 L1891.5,937.2 L1888,943.2 H1881 Z"/>
<circle cx="1884.5" cy="937.2" r="2.1"/>
</g>
</svg>
<div class="pl" style="top:48.6px">2,775.000</div><div class="pl" style="top:78.7px">2,770.000</div><div class="pl" style="top:108.9px">2,765.000</div><div class="pl" style="top:139.0px">2,760.000</div><div class="pl" style="top:169.1px">2,755.000</div><div class="pl" style="top:199.3px">2,750.000</div><div class="pl" style="top:229.4px">2,745.000</div><div class="pl" style="top:259.5px">2,740.000</div><div class="pl" style="top:289.7px">2,735.000</div><div class="pl" style="top:319.8px">2,730.000</div><div class="pl" style="top:350.0px">2,725.000</div><div class="pl" style="top:380.1px">2,720.000</div><div class="pl" style="top:410.2px">2,715.000</div><div class="pl" style="top:440.4px">2,710.000</div><div class="pl" style="top:470.5px">2,705.000</div><div class="pl" style="top:500.6px">2,700.000</div><div class="pl" style="top:530.8px">2,695.000</div><div class="pl" style="top:560.9px">2,690.000</div><div class="pl" style="top:591.0px">2,685.000</div><div class="pl" style="top:621.2px">2,680.000</div><div class="pl" style="top:651.3px">2,675.000</div><div class="pl" style="top:667.9px">80.00</div><div class="pl" style="top:712.3px">70.00</div><div class="pl" style="top:756.8px">60.00</div><div class="pl" style="top:801.2px">50.00</div><div class="pl" style="top:845.7px">40.00</div><div class="pl" style="top:890.1px">30.00</div><div class="tl" style="left:114px">16</div><div class="tl" style="left:275px">17</div><div class="tl" style="left:436px">18</div><div class="tl" style="left:535px">15:00</div><div class="tl b" style="left:626px">21</div><div class="tl" style="left:759px">22</div><div class="tl" style="left:921px">23</div><div class="tl" style="left:1082px">24</div><div class="tl" style="left:1244px">25</div><div class="tl" style="left:1342px">15:00</div><div class="tl b" style="left:1433px">28</div><div class="tl" style="left:1573px">29</div><div class="tl" style="left:1658px">12:00</div><div class="tl" style="left:1742px">30</div>
<!-- High label -->
<div class="abs" style="left:1816px;top:149px;width:32px;height:17px;background:#e3effd;font-size:12px;line-height:17px;padding-left:4.5px;border-radius:2px 0 0 2px;letter-spacing:-0.05px">High</div>
<div class="abs" style="left:1849px;top:149px;width:66px;height:17px;background:#e3effd;font-size:12px;line-height:17px;padding-left:8px;border-radius:0 2px 2px 0;letter-spacing:-0.15px">2,758.525</div>
<div class="abs" style="left:1849px;top:331px;width:66px;height:17px;background:#4caf50;color:#fff;font-size:12px;line-height:17px;padding-left:8px;border-radius:0 2px 2px 0;letter-spacing:-0.15px;text-shadow:0.3px 0 0 #fff">2,728.330</div>
<div class="abs" style="left:1853px;top:5.5px;width:62px;height:25px;border:1px solid #e0e3eb;border-radius:4px;font-size:10.5px;line-height:23px;padding-left:3px;background:#fff">USD</div>
<!-- header -->
<div class="abs" style="left:8.9px;top:7.8px;width:18.3px;height:18.3px;border-radius:50%;background:#d6981b"></div>
<svg class="abs" style="left:9px;top:8px" width="18" height="18" viewBox="0 0 18 18"><path d="M7.6,5 Q9,4.4 10.4,5 L12.3,8.3 H5.7 Z M4,9.4 Q5.3,8.8 6.6,9.4 L8.4,12.1 H2.2 Z M11.4,9.4 Q12.7,8.8 14,9.4 L15.8,12.1 H9.6 Z" fill="#fff"/></svg>
<div class="abs" id="title" style="left:31px;top:7.4px;font-size:16px;line-height:21px;letter-spacing:-0.295px">Gold Spot / U.S. Dollar · 1h · OANDA</div>
<div class="abs" style="left:301px;top:8.5px;width:40px;height:18px;border-radius:9px;overflow:hidden;background:#fbdde2"><div style="position:absolute;left:0;top:0;width:20px;height:18px;background:#e6ecee"></div><div style="position:absolute;left:6.5px;top:5px;width:8px;height:8px;border-radius:50%;background:#22806f"></div><div style="position:absolute;left:24px;top:-1px;font-size:15px;line-height:18px;color:#f23645;font-weight:bold">≈</div></div>
<div class="abs" id="ohlc" style="left:357.5px;top:9px;font-size:13px;line-height:17px;color:#2962ff;letter-spacing:-0.226px"><span style="color:#131722">O</span>2,726.050<span style="color:#131722;margin-left:7px">H</span>2,729.775<span style="color:#131722;margin-left:7px">L</span>2,725.980<span style="color:#131722;margin-left:7px">C</span>2,728.330<span style="margin-left:7px">+2.350 (+0.09%)</span></div>
<div class="abs" style="left:8px;top:33px;width:79px;height:34px;border:1px solid #f23645;border-radius:5px;color:#f23645;text-align:center;background:#fff"><div style="font-size:13px;line-height:14px;margin-top:2.5px;letter-spacing:-0.1px">2,728.25<span style="font-size:9px;position:relative;top:-3px">0</span></div><div style="font-size:11px;line-height:13px;margin-top:0px">SELL</div></div>
<div class="abs" style="left:95px;top:44px;font-size:10px;line-height:13px;letter-spacing:-0.1px">39.0</div>
<div class="abs" style="left:122px;top:33px;width:79px;height:34px;border:1px solid #2962ff;border-radius:5px;color:#2962ff;text-align:center;background:#fff"><div style="font-size:13px;line-height:14px;margin-top:2.5px;letter-spacing:-0.1px">2,728.64<span style="font-size:9px;position:relative;top:-3px">0</span></div><div style="font-size:11px;line-height:13px;margin-top:0px">BUY</div></div>
<!-- RSI legend -->
<div class="abs" id="rsileg" style="left:9px;top:674.5px;font-size:12px;line-height:16px;letter-spacing:0.12px">RSI 14 close</div>
<div class="abs" id="rsi1" style="left:86px;top:674.5px;font-size:12px;line-height:16px;letter-spacing:0.3px;color:#2962ff">43.58</div>
<div class="abs" id="rsi2" style="left:124px;top:674.5px;font-size:12px;line-height:16px;letter-spacing:0.3px">48.44</div>
<div class="abs" style="left:161.5px;top:674px;font-size:11.5px;line-height:16px;transform:scaleX(0.8);transform-origin:50% 50%">∅</div>
<div class="abs" style="left:175.4px;top:674px;font-size:11.5px;line-height:16px;transform:scaleX(0.8);transform-origin:50% 50%">∅</div>
<div class="abs" style="left:189.3px;top:674px;font-size:11.5px;line-height:16px;transform:scaleX(0.8);transform-origin:50% 50%">∅</div>
<div class="abs" style="left:203.4px;top:674px;font-size:11.5px;line-height:16px;transform:scaleX(0.8);transform-origin:50% 50%">∅</div>
</body></html>
